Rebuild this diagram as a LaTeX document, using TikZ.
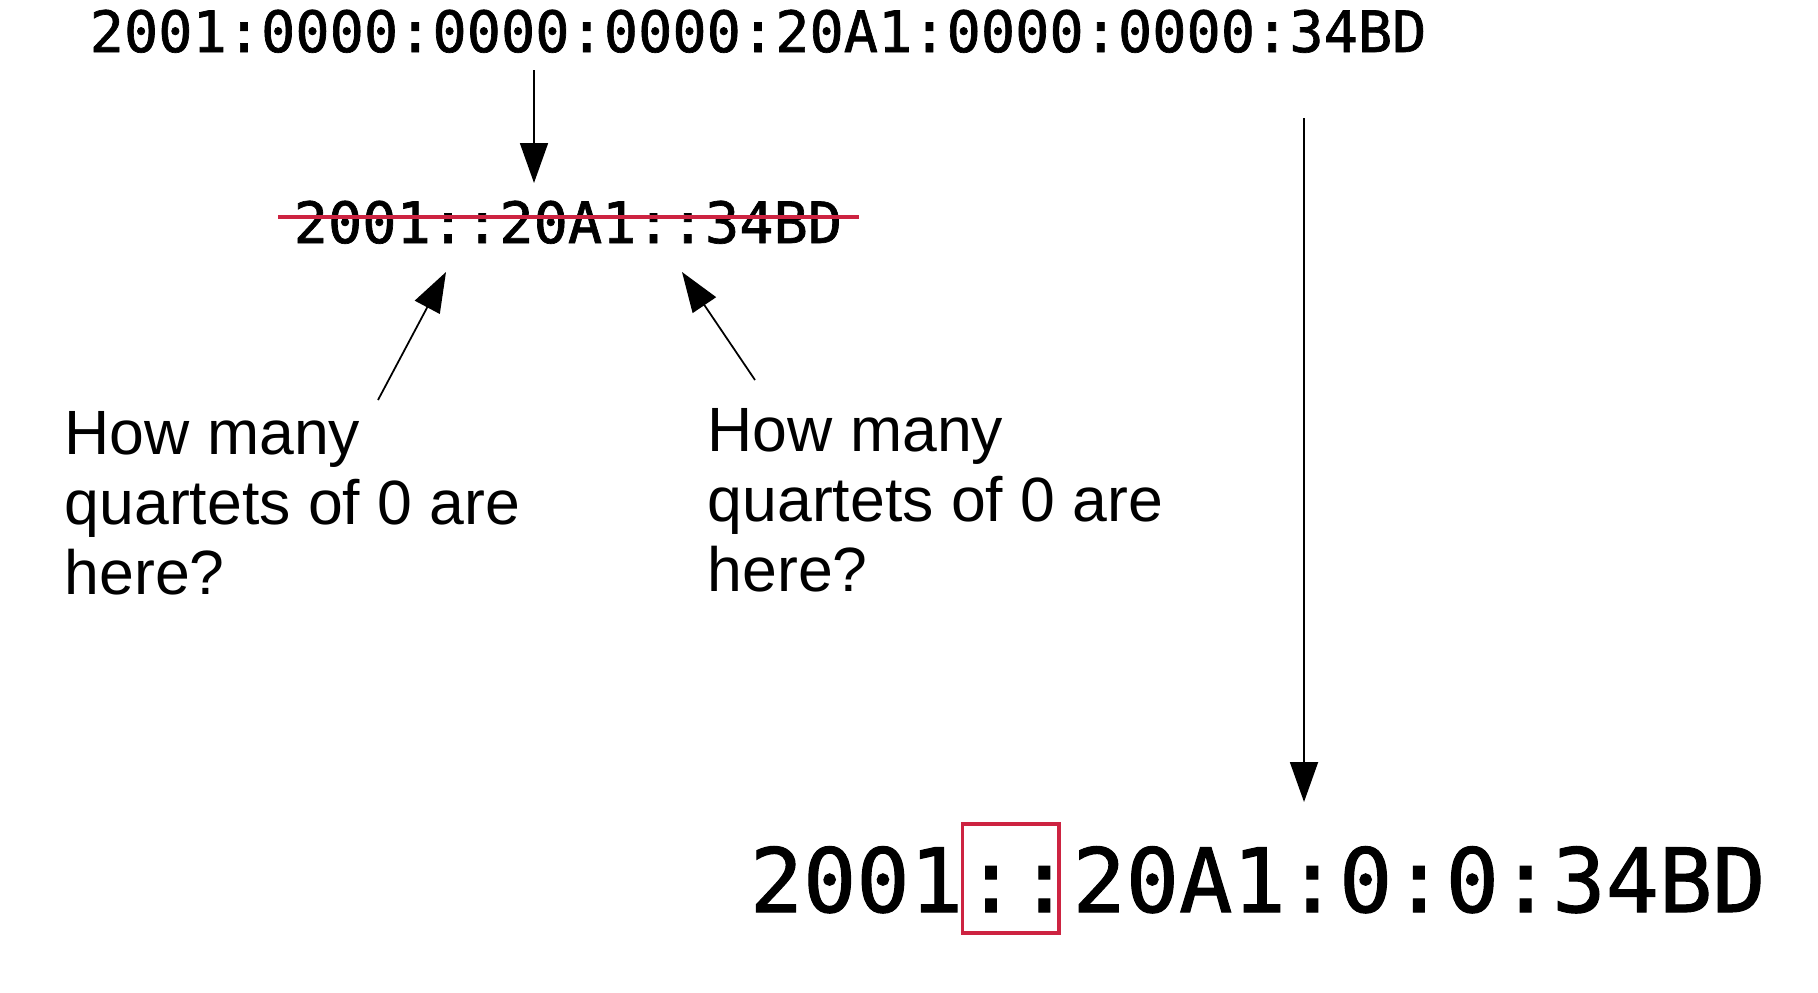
\documentclass[tikz,border=0pt]{standalone}
\usepackage{fontspec}
\setmainfont{Liberation Sans}
\newfontfamily\monof[FakeBold=1.2]{DejaVu Sans Mono}
\usetikzlibrary{arrows.meta,calc}
\definecolor{strikered}{RGB}{205,35,65}
\begin{document}
\begin{tikzpicture}[x=0.1mm,y=-0.1mm,
 mono/.style={font=\monof\fontsize{16.2pt}{19pt}\selectfont, inner sep=0pt, anchor=base west},
 bigmono/.style={font=\monof\fontsize{25.2pt}{30pt}\selectfont, inner sep=0pt, anchor=base west},
 qlabel/.style={font=\fontsize{17.8pt}{19.8pt}\selectfont, inner sep=0pt, anchor=base west, align=left},
 arr/.style={line width=0.5pt, -{Triangle[length=4mm,width=2.8mm]}},
 strike/.style={draw=strikered, line width=1.3pt},
 hlbox/.style={draw=strikered, line width=1pt}]
\useasboundingbox[fill=white] (0,0) rectangle (1818,992);

% top full address
\node[mono] (full) at (89,52) {2001:0000:0000:0000:20A1:0000:0000:34BD};

% wrong compressed form
\node[mono] (wrong) at (293,243) {2001::20A1::34BD};
\coordinate (sL) at (278,217);
\coordinate (sR) at (859,217);
\draw[strike] (sL) -- (sR);

% correct compressed form
\node[bigmono] (c1) at (749,912) {2001};
\node[bigmono] (c2) at (c1.base east) {::};
\node[bigmono] (c3) at (c2.base east) {20A1:0:0:34BD};
\draw[hlbox] ($(c2.base west)+(-1,-88)$) rectangle ($(c2.base east)+(-13,21)$);

% questions (base anchor = baseline of last line)
\node[qlabel] (q1) at (64,594) {How many\\quartets of 0 are\\here?};
\node[qlabel] (q2) at (707,591) {How many\\quartets of 0 are\\here?};

% arrows
\coordinate (a1s) at (534,70);
\coordinate (a1e) at (534,183);
\draw[arr] (a1s) -- (a1e);

\coordinate (a2s) at (1304,118);
\coordinate (a2e) at (1304,802);
\draw[arr] (a2s) -- (a2e);

\coordinate (a3s) at (378,400);
\coordinate (a3e) at (446,272);
\draw[arr] (a3s) -- (a3e);

\coordinate (a4s) at (755,380);
\coordinate (a4e) at (682,272);
\draw[arr] (a4s) -- (a4e);
\end{tikzpicture}
\end{document}
